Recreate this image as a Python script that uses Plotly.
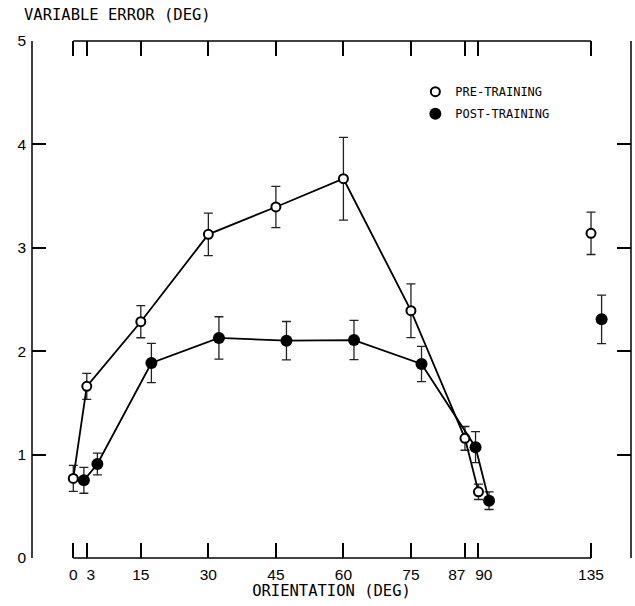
import plotly.graph_objects as go

# ---- data ----
orientations = [0, 3, 15, 30, 45, 60, 75, 87, 90]
pre_training = [0.77, 1.66, 2.285, 3.13, 3.395, 3.668, 2.392, 1.157, 0.64]
pre_err = [0.125, 0.125, 0.155, 0.205, 0.20, 0.40, 0.26, 0.115, 0.074]
post_training = [0.751, 0.909, 1.886, 2.128, 2.102, 2.108, 1.876, 1.072, 0.554]
post_err = [0.125, 0.105, 0.19, 0.205, 0.185, 0.19, 0.17, 0.15, 0.085]

oblique_orientation = [135]
pre_oblique = [3.14]
pre_oblique_err = [0.205]
post_oblique = [2.308]
post_oblique_err = [0.235]

tick_orientations = [0, 3, 15, 30, 45, 60, 75, 87, 90, 135]
tick_labels = ["0", "3", "15", "30", "45", "60", "75", "87", "90", "135"]
y_ticks = [0, 1, 2, 3, 4, 5]

series_names = ["PRE-TRAINING", "POST-TRAINING"]

# ---- axis layout helpers (broken axis after 90 deg) ----
BREAK_AT = 90
BREAK_GAP = 25          # 135 deg is drawn 25 axis units after 90
POST_SHIFT = 2.35       # post-training symbols are displaced to the right
# crowded tick labels are nudged sideways (axis units)
label_nudge = {3: 0.9, 87: -1.8, 90: 1.2}


def axis_pos(a):
    return a if a <= BREAK_AT else BREAK_AT + BREAK_GAP


X_RANGE = [-9.17, 123.88]
Y_RANGE = [0, 5]

MONO = "DejaVu Sans Mono"
SANS = "Liberation Sans, Arial, sans-serif"

open_marker = dict(symbol="circle", size=9, color="white",
                   line=dict(color="black", width=2))
fill_marker = dict(symbol="circle", size=12, color="black",
                   line=dict(color="black", width=0))
err_style = dict(type="data", visible=True, color="#222", thickness=1.3, width=4.5)

fig = go.Figure()

fig.add_trace(go.Scatter(
    x=[axis_pos(a) for a in orientations], y=pre_training,
    mode="lines+markers", showlegend=False,
    line=dict(color="black", width=1.8),
    marker=open_marker,
    error_y=dict(array=pre_err, **err_style),
    cliponaxis=False,
))
fig.add_trace(go.Scatter(
    x=[axis_pos(a) + POST_SHIFT for a in orientations], y=post_training,
    mode="lines+markers", showlegend=False,
    line=dict(color="black", width=1.8),
    marker=fill_marker,
    error_y=dict(array=post_err, **err_style),
    cliponaxis=False,
))
fig.add_trace(go.Scatter(
    x=[axis_pos(a) for a in oblique_orientation], y=pre_oblique,
    mode="markers", showlegend=False,
    marker=open_marker,
    error_y=dict(array=pre_oblique_err, **err_style),
    cliponaxis=False,
))
fig.add_trace(go.Scatter(
    x=[axis_pos(a) + POST_SHIFT for a in oblique_orientation], y=post_oblique,
    mode="markers", showlegend=False,
    marker=fill_marker,
    error_y=dict(array=post_oblique_err, **err_style),
    cliponaxis=False,
))
# legend entries: symbols only
for name, mk in zip(series_names, [open_marker, fill_marker]):
    fig.add_trace(go.Scatter(
        x=[None], y=[None], mode="markers", name=name,
        legendgroup=name, marker=mk,
    ))
# empty trace that carries the label axis
fig.add_trace(go.Scatter(
    x=[None], y=[None], xaxis="x2", yaxis="y", mode="markers",
    showlegend=False, hoverinfo="skip",
))

# frame lines with gaps (range-frame style)
x_first = axis_pos(tick_orientations[0])
x_last = axis_pos(tick_orientations[-1])
frame = dict(color="black", width=1.5)
shapes = [
    dict(type="line", xref="paper", yref="paper", x0=0, x1=0, y0=0, y1=1, line=frame),
    dict(type="line", xref="paper", yref="paper", x0=1, x1=1, y0=0, y1=1, line=frame),
    dict(type="line", xref="x", yref="paper", x0=x_first, x1=x_last, y0=0, y1=0, line=frame),
    dict(type="line", xref="x", yref="paper", x0=x_first, x1=x_last, y0=1, y1=1, line=frame),
]

fig.update_layout(
    width=635, height=606,
    margin=dict(l=32, r=4, t=41, b=48),
    paper_bgcolor="white", plot_bgcolor="white",
    shapes=shapes,
    showlegend=True,
    legend=dict(
        x=0.640, y=0.93, xanchor="left", yanchor="top",
        font=dict(family=MONO, size=12, color="black"),
        bgcolor="rgba(0,0,0,0)", borderwidth=0,
        itemwidth=30, tracegroupgap=3, traceorder="grouped",
    ),
    # tick marks at the true orientations
    xaxis=dict(
        range=X_RANGE, showgrid=False, zeroline=False, showline=False,
        tickmode="array",
        tickvals=[axis_pos(a) for a in tick_orientations],
        showticklabels=False,
        ticks="inside", ticklen=15, tickwidth=1.5, tickcolor="black",
        mirror="ticks",
    ),
    # tick labels (slightly nudged where crowded) and the axis title
    xaxis2=dict(
        overlaying="x", anchor="y", side="bottom",
        range=X_RANGE, showgrid=False, zeroline=False, showline=False,
        tickmode="array",
        tickvals=[axis_pos(a) + label_nudge.get(a, 0) for a in tick_orientations],
        ticktext=tick_labels,
        ticks="", tickangle=0, ticklabelstandoff=5,
        tickfont=dict(family=SANS, size=15.5, color="black"),
        title=dict(text="ORIENTATION (DEG)", font=dict(family=MONO, size=15.5, color="black"),
                   standoff=0),
    ),
    yaxis=dict(
        range=Y_RANGE, showgrid=False, zeroline=False, showline=False,
        tickmode="array", tickvals=y_ticks,
        ticktext=[str(v) for v in y_ticks],
        ticks="inside", ticklen=14, tickwidth=1.5, tickcolor="black",
        mirror="ticks", ticklabelstandoff=5,
        tickfont=dict(family=SANS, size=15.5, color="black"),
    ),
    annotations=[dict(
        text="VARIABLE ERROR (DEG)", xref="paper", yref="paper",
        x=-0.017, y=1.0, xanchor="left", yanchor="bottom", yshift=15,
        showarrow=False, font=dict(family=MONO, size=15.5, color="black"),
    )],
)

fig.write_html("out.html")
